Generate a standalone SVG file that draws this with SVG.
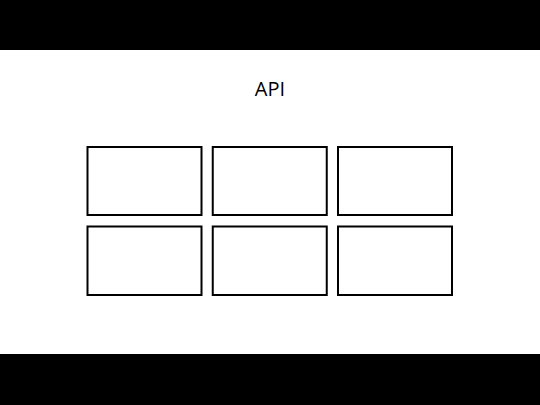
<svg xmlns="http://www.w3.org/2000/svg" width="540" height="405" viewBox="0 0 540 405">
<style>
.box{fill:#fff;stroke:#000;stroke-width:2}
.t{font-family:"Open Sans","Liberation Sans",sans-serif;font-size:20px;fill:#000}
</style>
<rect x="0" y="0" width="540" height="405" fill="#fff"/>
<rect x="0" y="0" width="540" height="50" fill="#000"/>
<rect x="0" y="354" width="540" height="51" fill="#000"/>
<text class="t" x="270" y="96" text-anchor="middle">API</text>
<g id="box1"><rect class="box" x="87.5" y="147" width="114" height="68"/></g>
<g id="box2"><rect class="box" x="212.75" y="147" width="114" height="68"/></g>
<g id="box3"><rect class="box" x="338" y="147" width="114" height="68"/></g>
<g id="box4"><rect class="box" x="87.5" y="226.5" width="114" height="68.5"/></g>
<g id="box5"><rect class="box" x="212.75" y="226.5" width="114" height="68.5"/></g>
<g id="box6"><rect class="box" x="338" y="226.5" width="114" height="68.5"/></g>
<g id="connectors"></g>
</svg>
